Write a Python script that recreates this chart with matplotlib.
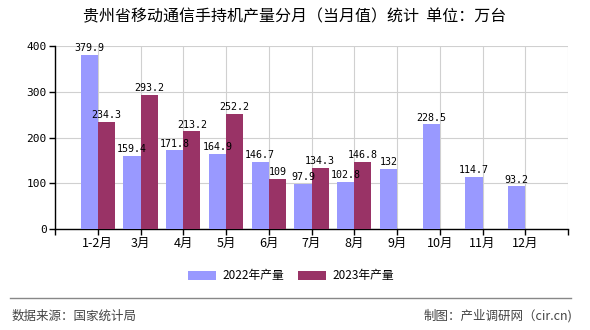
import matplotlib
matplotlib.use("Agg")
import matplotlib.pyplot as plt
import numpy as np
from matplotlib.lines import Line2D

plt.rcParams['font.family'] = ['Noto Sans CJK SC', 'DejaVu Sans']

# 月份与两年产量（万台）
months = ['1-2月', '3月', '4月', '5月', '6月', '7月', '8月', '9月', '10月', '11月', '12月']
prod_2022 = [379.9, 159.4, 171.8, 164.9, 146.7, 97.9, 102.8, 132, 228.5, 114.7, 93.2]
prod_2023 = [234.3, 293.2, 213.2, 252.2, 109, 134.3, 146.8]
labels_2022 = ['379.9', '159.4', '171.8', '164.9', '146.7', '97.9', '102.8', '132', '228.5', '114.7', '93.2']
labels_2023 = ['234.3', '293.2', '213.2', '252.2', '109', '134.3', '146.8']

c2022 = '#9999FF'
c2023 = '#993366'

fig = plt.figure(figsize=(5.9, 3.3), dpi=100)
ax = fig.add_axes([55 / 590, 1 - 229 / 330, 513 / 590, 183 / 330])

x = np.arange(1, len(months) + 1)
w = 0.4
ax.bar(x[:len(prod_2022)] - w / 2, prod_2022, width=w, color=c2022, zorder=3, label='2022年产量')
ax.bar(x[:len(prod_2023)] + w / 2, prod_2023, width=w, color=c2023, zorder=3, label='2023年产量')

# 数值标签
for xi, v, s in zip(x, prod_2022, labels_2022):
    ax.text(xi - w / 2, v + 4, s, ha='center', va='bottom', fontsize=7.2,
            family=['DejaVu Sans Mono'], zorder=4)
for xi, v, s in zip(x, prod_2023, labels_2023):
    ax.text(xi + w / 2, v + 4, s, ha='center', va='bottom', fontsize=7.2,
            family=['DejaVu Sans Mono'], zorder=4)

ax.set_xlim(0, 12)
ax.set_ylim(0, 400)
ax.set_xticks(np.arange(0, 13))
ax.set_xticklabels([''] + months + [''], fontsize=9)
ax.set_yticks([0, 100, 200, 300, 400])
ax.set_yticklabels(['0', '100', '200', '300', '400'], fontsize=8, family=['DejaVu Sans Mono'])
ax.tick_params(axis='both', length=4, width=1, color='black', pad=2)
ax.grid(True, color='#d0d0d0', linewidth=0.8, zorder=0)

for side in ['top', 'right']:
    ax.spines[side].set_visible(False)
for side in ['left', 'bottom']:
    ax.spines[side].set_color('black')
    ax.spines[side].set_linewidth(1)

fig.text(0.5, 1 - 17 / 330, '贵州省移动通信手持机产量分月（当月值）统计  单位：万台',
         ha='center', va='center', fontsize=11.5)

fig.legend(loc='center', bbox_to_anchor=(291 / 590, 1 - 276 / 330), ncol=2, frameon=False,
           fontsize=8.5, handlelength=2.4, handleheight=0.9, columnspacing=1.2, handletextpad=0.5)

fig.add_artist(Line2D([10 / 590, 571 / 590], [1 - 298 / 330] * 2, color='#888888', linewidth=1))
fig.text(12 / 590, 1 - 316 / 330, '数据来源：国家统计局', ha='left', va='center', fontsize=9, color='#444444')
fig.text(572 / 590, 1 - 316 / 330, '制图：产业调研网（cir.cn)', ha='right', va='center', fontsize=9, color='#444444')

fig.savefig('out.png', dpi=100)
